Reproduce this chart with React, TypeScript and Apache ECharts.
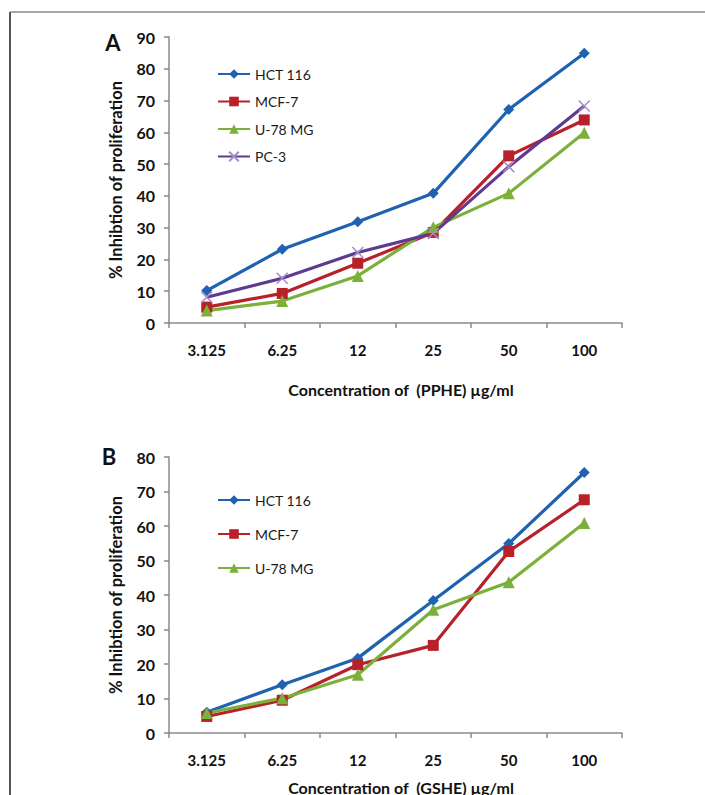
import React, { useEffect, useRef } from "react";
import * as echarts from "echarts";

const categories = ["3.125", "6.25", "12", "25", "50", "100"];
const yTicksA = [0, 10, 20, 30, 40, 50, 60, 70, 80, 90];
const yTicksB = [0, 10, 20, 30, 40, 50, 60, 70, 80];

const hctA = [10.2, 23.2, 31.9, 40.8, 67.2, 84.9];
const mcfA = [5.0, 9.3, 18.8, 28.5, 52.6, 63.9];
const u78A = [3.9, 6.9, 14.8, 30.1, 40.8, 59.9];
const pc3A = [8.1, 14.1, 22.2, 28.2, 49.2, 68.3];

const hctB = [6.0, 14.0, 21.7, 38.4, 54.9, 75.5];
const mcfB = [4.8, 9.5, 19.8, 25.4, 52.6, 67.6];
const u78B = [5.8, 10.1, 16.9, 35.7, 43.7, 60.9];

const namesA = ["HCT 116", "MCF-7", "U-78 MG", "PC-3"];
const namesB = ["HCT 116", "MCF-7", "U-78 MG"];

const BLUE = "#1f62b0";
const RED = "#b8202a";
const GREEN = "#7bb03a";
const PURPLE = "#5e3a91";
const PURPLE_MARK = "#a48cc8";
const FONT = "Lato, 'Open Sans', sans-serif";

function mkSeries(name: string, data: number[], idx: number) {
  const base: any = {
    name,
    type: "line",
    data,
    xAxisIndex: idx,
    yAxisIndex: idx,
    lineStyle: { width: 3.2 },
    showSymbol: true,
  };
  if (name === "HCT 116") {
    base.symbol = "diamond";
    base.symbolSize = 11;
    base.itemStyle = { color: BLUE };
    base.lineStyle.color = BLUE;
  } else if (name === "MCF-7") {
    base.symbol = "rect";
    base.symbolSize = 11;
    base.itemStyle = { color: RED };
    base.lineStyle.color = RED;
  } else if (name === "U-78 MG") {
    base.symbol = "triangle";
    base.symbolSize = 12;
    base.itemStyle = { color: GREEN };
    base.lineStyle.color = GREEN;
  } else {
    base.symbol = "path://M0,0L10,10M10,0L0,10";
    base.symbolSize = 11;
    base.itemStyle = { color: "rgba(0,0,0,0)", borderColor: PURPLE_MARK, borderWidth: 1.5 };
    base.lineStyle.color = PURPLE;
  }
  return base;
}

function yAxis(idx: number, max: number) {
  return {
    type: "value",
    gridIndex: idx,
    min: 0,
    max,
    interval: 10,
    name: "% Inhibtion of proliferation",
    nameLocation: "middle",
    nameGap: 45,
    nameRotate: 90,
    nameTextStyle: { fontFamily: FONT, fontWeight: "bold", fontSize: 16.5, color: "#111" },
    axisLine: { show: true, lineStyle: { color: "#8a8a8a", width: 1.5 } },
    axisTick: { show: true, length: 5, lineStyle: { color: "#8a8a8a", width: 1.5 } },
    splitLine: { show: false },
    axisLabel: { fontFamily: FONT, fontWeight: "bold", fontSize: 16, color: "#111", margin: 14 },
  };
}

function xAxis(idx: number) {
  return {
    type: "category",
    gridIndex: idx,
    data: categories,
    boundaryGap: true,
    axisLine: { show: true, lineStyle: { color: "#8a8a8a", width: 1.5 } },
    axisTick: { show: true, length: 5, alignWithLabel: false, lineStyle: { color: "#8a8a8a", width: 1.5 } },
    axisLabel: { fontFamily: FONT, fontWeight: "bold", fontSize: 15, color: "#111", margin: 19, interval: 0 },
    splitLine: { show: false },
  };
}

export default function App() {
  const ref = useRef<HTMLDivElement>(null);
  useEffect(() => {
    document.body.style.margin = "0";
    if (!ref.current) return;
    const chart = echarts.init(ref.current, null, { renderer: "svg" });
    const option: any = {
      animation: false,
      backgroundColor: "#ffffff",
      grid: [
        { left: 169, top: 37, width: 453, height: 286 },
        { left: 169, top: 457, width: 453, height: 276 },
      ],
      xAxis: [xAxis(0), xAxis(1)],
      yAxis: [yAxis(0, yTicksA[yTicksA.length - 1]), yAxis(1, yTicksB[yTicksB.length - 1])],
      legend: [
        {
          data: namesA,
          orient: "vertical",
          left: 212,
          top: 62,
          itemWidth: 32,
          itemHeight: 12,
          itemGap: 13.5,
          textStyle: { fontFamily: FONT, fontSize: 14, color: "#1a1a1a" },
          selectedMode: false,
        },
        {
          data: namesB,
          orient: "vertical",
          left: 212,
          top: 488,
          itemWidth: 32,
          itemHeight: 12,
          itemGap: 20,
          textStyle: { fontFamily: FONT, fontSize: 14, color: "#1a1a1a" },
          selectedMode: false,
        },
      ],
      series: [
        mkSeries("HCT 116", hctA, 0),
        mkSeries("MCF-7", mcfA, 0),
        mkSeries("U-78 MG", u78A, 0),
        mkSeries("PC-3", pc3A, 0),
        mkSeries("HCT 116", hctB, 1),
        mkSeries("MCF-7", mcfB, 1),
        mkSeries("U-78 MG", u78B, 1),
      ],
      graphic: [
        { type: "line", shape: { x1: 10, y1: 12, x2: 705, y2: 12 }, style: { stroke: "#a8a8a8", lineWidth: 2 } },
        { type: "line", shape: { x1: 10, y1: 12, x2: 10, y2: 795 }, style: { stroke: "#555555", lineWidth: 2 } },
        {
          type: "text",
          x: 113,
          y: 42,
          style: { text: "A", font: `bold 22px ${FONT}`, fill: "#111", textAlign: "center", textVerticalAlign: "middle" },
        },
        {
          type: "text",
          x: 109,
          y: 456,
          style: { text: "B", font: `bold 22px ${FONT}`, fill: "#111", textAlign: "center", textVerticalAlign: "middle" },
        },
        {
          type: "text",
          x: 401,
          y: 389,
          style: { text: "Concentration of  (PPHE) µg/ml", font: `bold 16px ${FONT}`, fill: "#111", textAlign: "center", textVerticalAlign: "middle" },
        },
        {
          type: "text",
          x: 401,
          y: 787,
          style: { text: "Concentration of  (GSHE) µg/ml", font: `bold 16px ${FONT}`, fill: "#111", textAlign: "center", textVerticalAlign: "middle" },
        },
      ],
    };
    chart.setOption(option);
    return () => chart.dispose();
  }, []);
  return <div ref={ref} style={{ width: 705, height: 795 }} />;
}
